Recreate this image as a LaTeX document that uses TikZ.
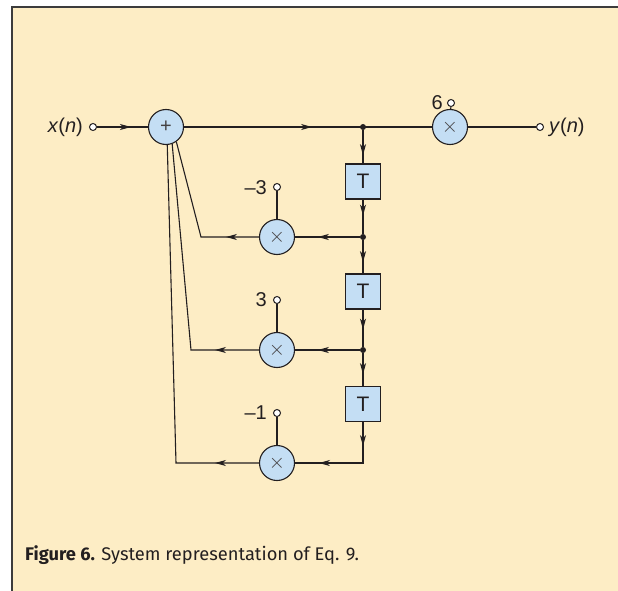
\documentclass[tikz,border=0pt]{standalone}
\usepackage{fontspec}
\setmainfont{Liberation Sans}
\newfontfamily\capfont{Fira Sans}
\usetikzlibrary{arrows.meta,decorations.markings}
\definecolor{cream}{RGB}{253,237,197}
\definecolor{nodeblue}{RGB}{196,222,244}
\definecolor{ink}{RGB}{35,31,32}
\definecolor{frame}{RGB}{60,60,60}
\tikzset{
  wire/.style={draw=ink, line width=1.1pt},
  midarr/.style={postaction={decorate,decoration={markings,mark=at position #1 with {\arrow{Stealth[length=11pt,width=6pt,inset=3pt]}}}}},
  opcircle/.style={circle, draw=ink, line width=1.1pt, fill=nodeblue, minimum size=35pt, inner sep=0pt, font=\fontsize{20}{20}\selectfont, text=ink!85},
  delaybox/.style={rectangle, draw=ink, line width=1.1pt, fill=nodeblue, minimum size=35pt, inner sep=0pt, font=\fontsize{21}{21}\selectfont, text=ink},
  port/.style={circle, draw=ink, line width=1pt, fill=white, minimum size=7pt, inner sep=0pt},
  jdot/.style={circle, fill=ink, minimum size=6pt, inner sep=0pt},
  lab/.style={font=\fontsize{20}{20}\selectfont, text=ink, inner sep=0pt},
}
\begin{document}
\begin{tikzpicture}[x=1pt,y=-1pt]
\useasboundingbox (0,0) rectangle (618,591);
\fill[white] (0,0) rectangle (618,591);
\fill[cream] (12,7) rectangle (618,591);
\draw[frame, line width=1.8pt] (12,591) -- (12,7) -- (618,7);

% nodes
\node[opcircle] (add) at (166,127) {+};
\node[opcircle] (m6) at (450,127) {$\times$};
\node[opcircle] (m3) at (277,237) {$\times$};
\node[opcircle] (m2) at (277,350) {$\times$};
\node[opcircle] (m1) at (277,463) {$\times$};
\node[delaybox] (t1) at (363,181.5) {T};
\node[delaybox] (t2) at (363,291.5) {T};
\node[delaybox] (t3) at (363,404) {T};
\node[jdot] (j1) at (363,127) {};
\node[jdot] (j2) at (363,237) {};
\node[jdot] (j3) at (363,350) {};
\coordinate (c4) at (363,463);
\coordinate (k3) at (201,237);
\coordinate (k2) at (191,350);
\coordinate (k1) at (176,463);
\node[port] (in) at (93,127) {};
\node[port] (out) at (540,127) {};
\node[port] (p6) at (451,103) {};
\node[port] (p3) at (277,187) {};
\node[port] (p2) at (277,300) {};
\node[port] (p1) at (277,413) {};

% labels
\node[lab, anchor=east] (lx) at (83,127) {\textit{x}(\textit{n})};
\node[lab, anchor=west] (ly) at (549,127) {\textit{y}(\textit{n})};
\node[lab, anchor=east] (l6) at (443,103) {6};
\node[lab, anchor=east] (l3) at (267,188) {–3};
\node[lab, anchor=east] (l2) at (267,300) {3};
\node[lab, anchor=east] (l1) at (267,413) {–1};

% connectors
\draw[wire, midarr=34pt] (in) -- (add);
\draw[wire, midarr=128pt] (add) -- (m6);
\draw[wire] (m6) -- (out);
\draw[wire] (p6) -- (m6);
\draw[wire] (p3) -- (m3);
\draw[wire] (p2) -- (m2);
\draw[wire] (p1) -- (m1);
\draw[wire, midarr=25pt] (j1) -- (t1);
\draw[wire, midarr=16pt] (t1) -- (j2);
\draw[wire, midarr=22pt] (j2) -- (t2);
\draw[wire, midarr=20pt] (t2) -- (j3);
\draw[wire, midarr=21pt] (j3) -- (t3);
\draw[wire, midarr=24pt, midarr=85pt] (t3.south) -- (c4) -- (m1);
\draw[wire, midarr=42pt] (j2) -- (m3);
\draw[wire, midarr=42pt] (j3) -- (m2);
\draw[wire, midarr=33pt] (m3) -- (k3) -- (add.-55);
\draw[wire, midarr=44pt] (m2) -- (k2) -- (add.-70);
\draw[wire, midarr=44pt] (m1) -- (k1) -- (add.-86);

% caption
\node[anchor=base west, inner sep=0pt, text=ink, font=\capfont\fontsize{18.3}{19}\selectfont] (cap) at (25,560) {\textbf{Figure 6.} System representation of Eq. 9.};
\end{tikzpicture}
\end{document}
